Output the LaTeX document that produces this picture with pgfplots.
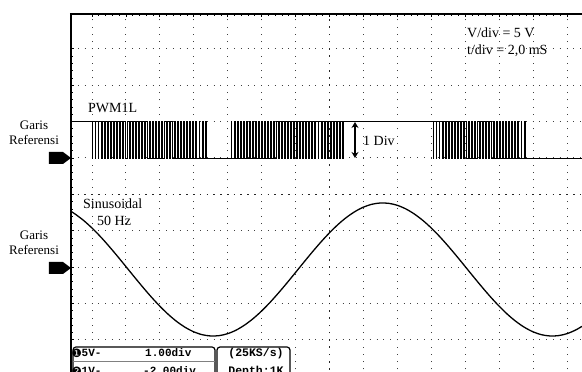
\documentclass[border=0pt]{standalone}
\usepackage{pgfplots}
\pgfplotsset{compat=1.18}
\usepackage{fontspec}
\setmainfont{Liberation Serif}
\setmonofont{Liberation Mono}
\newfontfamily\dejavu{DejaVu Sans}
\usetikzlibrary{arrows.meta}

\begin{document}
\begin{tikzpicture}
\useasboundingbox (-71pt,0pt) rectangle (511pt,372pt);
\clip (-71pt,0pt) rectangle (511pt,372pt);
\begin{axis}[
  at={(0pt,0pt)}, anchor=south west,
  scale only axis, width=511pt, height=358pt,
  xmin=-0.619, xmax=14.442, ymin=-5.883, ymax=3.959,
  axis line style={draw=none},
  xtick={0,...,14}, ytick={-5,...,3},
  minor x tick num=4, minor y tick num=4,
  xticklabels={}, yticklabels={},
  xtick pos=right, ytick pos=left,
  tick align=inside,
  major tick length=3pt, minor tick length=2.5pt,
  tick style={black, line width=0.8pt},
  grid=major,
  x grid style={black!75, line width=1pt, dash pattern=on 1pt off 6.275pt, dash phase=4.755pt},
  y grid style={black!75, line width=1pt, dash pattern=on 1pt off 5.786pt, dash phase=6.641pt},
  clip=false,
]
% emphasised centre lines of the graticule
\draw[black!85, line width=1.6pt, dash pattern=on 1.6pt off 5.675pt, dash phase=5.055pt] (axis cs:7,-5.883) -- (axis cs:7,3.959);
\draw[black!85, line width=1.6pt, dash pattern=on 1.6pt off 5.186pt, dash phase=0.155pt] (axis cs:-0.619,-1) -- (axis cs:14.442,-1);
\draw[line width=0.9pt] (axis cs:2,-1) ++(-4pt,0) -- ++(8pt,0);
\draw[line width=0.9pt] (axis cs:2,-1) ++(0,-4pt) -- ++(0,8pt);
\draw[line width=0.9pt] (axis cs:12,-1) ++(-4pt,0) -- ++(8pt,0);
\draw[line width=0.9pt] (axis cs:12,-1) ++(0,-4pt) -- ++(0,8pt);

% PWM1L signal
\addplot[const plot, black, line width=0.8pt] coordinates {
(-0.619,1)
(0.000,0) (0.018,1) (0.091,0) (0.111,1) (0.182,0) (0.203,1) (0.272,0) (0.294,1) (0.363,0) (0.387,1)
(0.454,0) (0.479,1) (0.545,0) (0.572,1) (0.636,0) (0.664,1) (0.726,0) (0.755,1) (0.817,0) (0.848,1)
(0.908,0) (0.940,1) (0.999,0) (1.032,1) (1.090,0) (1.125,1) (1.180,0) (1.216,1) (1.271,0) (1.309,1)
(1.362,0) (1.401,1) (1.453,0) (1.493,1) (1.544,0) (1.586,1) (1.634,0) (1.677,1) (1.725,0) (1.769,1)
(1.816,0) (1.862,1) (1.907,0) (1.954,1) (1.998,0) (2.047,1) (2.088,0) (2.138,1) (2.179,0) (2.230,1)
(2.270,0) (2.323,1) (2.361,0) (2.415,1) (2.452,0) (2.508,1) (2.542,0) (2.599,1) (2.633,0) (2.691,1)
(2.724,0) (2.784,1) (2.815,0) (2.876,1) (2.906,0) (2.969,1) (2.996,0) (3.060,1) (3.087,0) (3.152,1)
(3.178,0) (3.245,1) (3.269,0) (3.337,1) (3.360,0)
(4.100,1) (4.122,0) (4.189,1) (4.213,0) (4.278,1) (4.303,0) (4.368,1) (4.394,0) (4.457,1) (4.485,0)
(4.546,1) (4.575,0) (4.635,1) (4.665,0) (4.724,1) (4.756,0) (4.814,1) (4.847,0) (4.903,1) (4.938,0)
(4.992,1) (5.028,0) (5.081,1) (5.118,0) (5.170,1) (5.209,0) (5.260,1) (5.300,0) (5.349,1) (5.390,0)
(5.438,1) (5.481,0) (5.527,1) (5.571,0) (5.616,1) (5.662,0) (5.706,1) (5.753,0) (5.795,1) (5.843,0)
(5.884,1) (5.934,0) (5.973,1) (6.024,0) (6.062,1) (6.115,0) (6.152,1) (6.206,0) (6.241,1) (6.296,0)
(6.330,1) (6.387,0) (6.419,1) (6.477,0) (6.508,1) (6.567,0) (6.598,1) (6.659,0) (6.687,1) (6.749,0)
(6.776,1) (6.840,0) (6.865,1) (6.930,0) (6.954,1) (7.020,0) (7.044,1) (7.112,0) (7.133,1) (7.202,0)
(7.222,1) (7.292,0) (7.311,1) (7.382,0) (7.400,1)
(10.050,0) (10.068,1) (10.140,0) (10.160,1) (10.231,0) (10.252,1) (10.321,0) (10.344,1) (10.411,0) (10.436,1)
(10.502,0) (10.529,1) (10.592,0) (10.620,1) (10.682,0) (10.712,1) (10.772,0) (10.804,1) (10.863,0) (10.897,1)
(10.953,0) (10.988,1) (11.043,0) (11.080,1) (11.134,0) (11.173,1) (11.224,0) (11.264,1) (11.314,0) (11.356,1)
(11.405,0) (11.449,1) (11.495,0) (11.540,1) (11.585,0) (11.632,1) (11.675,0) (11.724,1) (11.766,0) (11.817,1)
(11.856,0) (11.908,1) (11.946,0) (12.000,1) (12.037,0) (12.093,1) (12.127,0) (12.184,1) (12.217,0) (12.276,1)
(12.308,0) (12.369,1) (12.398,0) (12.461,1) (12.488,0) (12.552,1) (12.578,0) (12.644,1) (12.669,0) (12.737,1)
(12.760,0) (14.442,0)
};

% 50 Hz sinusoid
\addplot[black, line width=1.3pt, smooth] coordinates {
(-0.619,-1.467) (-0.5,-1.539) (-0.25,-1.715) (0,-1.925) (0.25,-2.163) (0.5,-2.424) (0.75,-2.700) (1.0,-2.985) (1.25,-3.272) (1.5,-3.553) (1.75,-3.823) (2.0,-4.074) (2.25,-4.301) (2.5,-4.497) (2.75,-4.657) (3.0,-4.779) (3.25,-4.858) (3.5,-4.893) (3.75,-4.883) (4.0,-4.829) (4.25,-4.731) (4.5,-4.591) (4.75,-4.415) (5.0,-4.205) (5.25,-3.967) (5.5,-3.706) (5.75,-3.431) (6.0,-3.146) (6.25,-2.859) (6.5,-2.577) (6.75,-2.307) (7.0,-2.056) (7.25,-1.829) (7.5,-1.633) (7.75,-1.473) (8.0,-1.351) (8.25,-1.272) (8.5,-1.237) (8.75,-1.247) (9.0,-1.301) (9.25,-1.400) (9.5,-1.539) (9.75,-1.715) (10.0,-1.925) (10.25,-2.163) (10.5,-2.424) (10.75,-2.700) (11.0,-2.985) (11.25,-3.272) (11.5,-3.553) (11.75,-3.823) (12.0,-4.074) (12.25,-4.301) (12.5,-4.497) (12.75,-4.657) (13.0,-4.779) (13.25,-4.858) (13.5,-4.893) (13.75,-4.883) (14.0,-4.829) (14.25,-4.731) (14.442,-4.628)
};
\end{axis}

% screen border
\draw[line width=2.2pt] (0pt,-2pt) -- (0pt,358pt);
\draw[line width=1.8pt] (-1.1pt,358pt) -- (511pt,358pt);

% reference markers and labels
\fill (-22pt,220pt) -- (-8pt,220pt) -- (0pt,214pt) -- (-8pt,208pt) -- (-22pt,208pt) -- cycle;
\fill (-22pt,110pt) -- (-8pt,110pt) -- (0pt,104pt) -- (-8pt,98pt) -- (-22pt,98pt) -- cycle;
\node[anchor=base, inner sep=0pt, font=\fontsize{13}{13}\selectfont] at (-37pt,242pt) {Garis};
\node[anchor=base, inner sep=0pt, font=\fontsize{13}{13}\selectfont] at (-37pt,227pt) {Referensi};
\node[anchor=base, inner sep=0pt, font=\fontsize{13}{13}\selectfont] at (-37pt,132pt) {Garis};
\node[anchor=base, inner sep=0pt, font=\fontsize{13}{13}\selectfont] at (-37pt,117pt) {Referensi};

\node[anchor=base west, inner sep=0pt, font=\fontsize{14}{14}\selectfont] at (17pt,259pt) {PWM1L};
\node[anchor=base west, inner sep=0pt, font=\fontsize{14}{14}\selectfont] at (396pt,334pt) {V/div = 5 V};
\node[anchor=base west, inner sep=0pt, font=\fontsize{14}{14}\selectfont] at (396pt,317pt) {t/div = 2,0 mS};
\draw[line width=2.2pt, {Stealth[length=6pt,width=7pt]}-{Stealth[length=6pt,width=7pt]}] (284pt,214pt) -- (284pt,250pt);
\node[anchor=base west, inner sep=0pt, font=\fontsize{14}{14}\selectfont] at (292pt,226pt) {1 Div};
\node[anchor=base west, inner sep=0pt, font=\fontsize{14}{14}\selectfont] at (12pt,163pt) {Sinusoidal};
\node[anchor=base west, inner sep=0pt, font=\fontsize{14}{14}\selectfont] at (26pt,146pt) {50 Hz};

% channel information boxes
\draw[line width=1.2pt, rounded corners=3pt, fill=white] (2pt,-12pt) rectangle (144pt,25pt);
\draw[black!50, line width=0.8pt] (2pt,11pt) -- (144pt,11pt);
\draw[line width=1.2pt, rounded corners=3pt, fill=white] (146pt,-12pt) rectangle (219pt,25pt);
\node[anchor=base west, inner sep=0pt] at (0.5pt,14.5pt) {\dejavu\fontsize{11.5}{11.5}\selectfont ❶};
\node[anchor=base west, inner sep=0pt] at (10.5pt,15pt) {\ttfamily\bfseries\fontsize{11}{11}\selectfont 5V-};
\node[anchor=base west, inner sep=0pt] at (74pt,15pt) {\ttfamily\bfseries\fontsize{11}{11}\selectfont 1.00div};
\node[anchor=base, inner sep=0pt] at (185pt,15pt) {\ttfamily\bfseries\fontsize{11.5}{11.5}\selectfont (25KS/s)};
\node[anchor=base west, inner sep=0pt] at (0.5pt,-3.5pt) {\dejavu\fontsize{11.5}{11.5}\selectfont ❷};
\node[anchor=base west, inner sep=0pt] at (10.5pt,-3pt) {\ttfamily\bfseries\fontsize{11}{11}\selectfont 1V-};
\node[anchor=base west, inner sep=0pt] at (72pt,-3pt) {\ttfamily\bfseries\fontsize{11}{11}\selectfont -2.00div};
\node[anchor=base, inner sep=0pt] at (185pt,-3pt) {\ttfamily\bfseries\fontsize{11.5}{11.5}\selectfont Depth:1K};
\end{tikzpicture}
\end{document}
